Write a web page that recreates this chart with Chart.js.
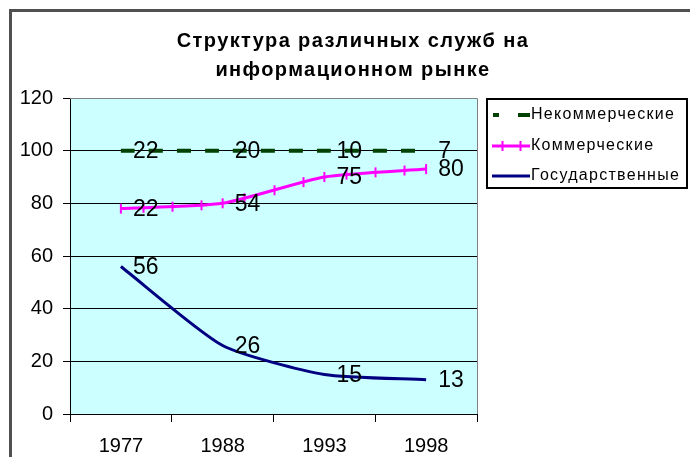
<!DOCTYPE html>
<html>
<head>
<meta charset="utf-8">
<script src="https://cdn.jsdelivr.net/npm/chart.js@4.4.1/dist/chart.umd.min.js"></script>
<style>
  html, body { margin: 0; padding: 0; background: #ffffff; }
  canvas { display: block; }
</style>
</head>
<body>
<canvas id="chart" width="690" height="457"></canvas>
<script>
// Years on the horizontal axis
const years = ['1977', '1988', '1993', '1998'];
// Shares of each service type, in percent (stacked to 100)
const stateShare = [56, 26, 15, 13];
const commercialShare = [22, 54, 75, 80];
const nonCommercialShare = [22, 20, 10, 7];
// Vertical axis range
const yMin = 0;
const yMax = 120;
const yStep = 20;

const titleLines = ['Структура различных служб на', 'информационном рынке'];
const FONT = '"Liberation Sans", Arial, Helvetica, sans-serif';

// Light cyan fill behind the plot area
const plotBackground = {
  id: 'plotBackground',
  beforeDraw(chart) {
    const { ctx, chartArea: a } = chart;
    ctx.save();
    ctx.fillStyle = '#CCFFFF';
    ctx.fillRect(a.left, a.top, a.right - a.left, a.bottom - a.top);
    ctx.restore();
  }
};

// Small vertical ticks along the commercial curve
const curveTicks = {
  id: 'curveTicks',
  afterDatasetsDraw(chart) {
    const { ctx } = chart;
    chart.data.datasets.forEach((ds, di) => {
      if (!ds.curveTicks) return;
      const pts = chart.getDatasetMeta(di).data;
      const bez = (a, b, c, d, t) => {
        const u = 1 - t;
        return u * u * u * a + 3 * u * u * t * b + 3 * u * t * t * c + t * t * t * d;
      };
      ctx.save();
      ctx.strokeStyle = ds.borderColor;
      ctx.lineWidth = 2;
      for (let i = 0; i < pts.length - 1; i++) {
        const p0 = pts[i], p1 = pts[i + 1];
        [0.25, 0.5, 0.75].forEach(t => {
          const x = bez(p0.x, p0.cp2x, p1.cp1x, p1.x, t);
          const y = bez(p0.y, p0.cp2y, p1.cp1y, p1.y, t);
          ctx.beginPath();
          ctx.moveTo(Math.round(x) + 0.5, y - 5);
          ctx.lineTo(Math.round(x) + 0.5, y + 5);
          ctx.stroke();
        });
      }
      ctx.restore();
    });
  }
};

// Value of each series written to the right of its point
const valueLabels = {
  id: 'valueLabels',
  afterDatasetsDraw(chart) {
    const { ctx } = chart;
    ctx.save();
    ctx.font = '23px ' + FONT;
    ctx.fillStyle = '#000000';
    ctx.textAlign = 'left';
    ctx.textBaseline = 'middle';
    chart.data.datasets.forEach((ds, di) => {
      chart.getDatasetMeta(di).data.forEach((el, i) => {
        ctx.fillText(String(ds.data[i]), el.x + 12, el.y + 1);
      });
    });
    ctx.restore();
  }
};

// Outer frame, plot border, title and boxed legend
const decorations = {
  id: 'decorations',
  afterDraw(chart) {
    const { ctx, chartArea: a } = chart;
    ctx.save();

    // plot right / top border
    ctx.strokeStyle = '#808080';
    ctx.lineWidth = 1;
    ctx.beginPath();
    ctx.moveTo(a.left, a.top + 0.5);
    ctx.lineTo(a.right + 0.5, a.top + 0.5);
    ctx.lineTo(a.right + 0.5, a.bottom);
    ctx.stroke();

    // outer frame (top and left)
    ctx.strokeStyle = '#505050';
    ctx.lineWidth = 3;
    ctx.beginPath();
    ctx.moveTo(10.5, 457);
    ctx.lineTo(10.5, 10.5);
    ctx.lineTo(690, 10.5);
    ctx.stroke();

    // title
    ctx.fillStyle = '#000000';
    ctx.font = 'bold 20px ' + FONT;
    ctx.textAlign = 'center';
    ctx.textBaseline = 'middle';
    ctx.letterSpacing = '1.4px';
    ctx.fillText(titleLines[0], 353, 41);
    ctx.fillText(titleLines[1], 353, 70);

    // legend box
    const lx = 487, ly = 99, lw = 200, lh = 89;
    ctx.letterSpacing = '0px';
    ctx.strokeStyle = '#000000';
    ctx.lineWidth = 2;
    ctx.strokeRect(lx, ly, lw, lh);

    const order = [2, 1, 0];
    const rowY = [115, 146, 176];
    ctx.font = '16px ' + FONT;
    ctx.textAlign = 'left';
    order.forEach((di, r) => {
      const ds = chart.data.datasets[di];
      const y = rowY[r];
      ctx.save();
      ctx.strokeStyle = ds.borderColor;
      ctx.lineWidth = ds.borderWidth;
      if (ds.borderDash && ds.borderDash.length) {
        ctx.beginPath();
        ctx.moveTo(493, y); ctx.lineTo(499, y);
        ctx.moveTo(518, y); ctx.lineTo(530, y);
        ctx.stroke();
      } else {
        ctx.beginPath();
        ctx.moveTo(492, y); ctx.lineTo(530, y);
        ctx.stroke();
      }
      if (ds.curveTicks) {
        ctx.lineWidth = 2;
        [502.5, 520.5].forEach(x => {
          ctx.beginPath();
          ctx.moveTo(x, y - 5); ctx.lineTo(x, y + 5);
          ctx.stroke();
        });
      }
      ctx.restore();
      ctx.fillStyle = '#000000';
      ctx.letterSpacing = '1.3px';
      ctx.fillText(ds.label, 531, y);
    });
    ctx.restore();
  }
};

new Chart(document.getElementById('chart'), {
  type: 'line',
  data: {
    labels: years,
    datasets: [
      {
        label: 'Государственные',
        data: stateShare,
        borderColor: '#000080',
        borderWidth: 3,
        pointRadius: 0,
        tension: 0.2,
        fill: false
      },
      {
        label: 'Коммерческие',
        data: commercialShare,
        borderColor: '#FF00FF',
        borderWidth: 3,
        pointStyle: 'line',
        rotation: 90,
        pointRadius: 5,
        pointBorderWidth: 2,
        pointBorderColor: '#FF00FF',
        curveTicks: true,
        tension: 0.2,
        fill: false
      },
      {
        label: 'Некоммерческие',
        data: nonCommercialShare,
        borderColor: '#004000',
        borderWidth: 4,
        borderDash: [14, 14],
        pointRadius: 0,
        tension: 0.2,
        fill: false
      }
    ]
  },
  options: {
    responsive: false,
    animation: false,
    devicePixelRatio: 1,
    layout: { padding: { top: 98, right: 213, bottom: 0, left: 0 } },
    plugins: {
      legend: { display: false },
      title: { display: false },
      tooltip: { enabled: false }
    },
    scales: {
      x: {
        type: 'category',
        offset: true,
        afterFit(scale) { scale.height = 43; },
        grid: {
          offset: true,
          drawOnChartArea: false,
          color: '#000000',
          tickLength: 8,
          lineWidth: 1
        },
        border: { color: '#000000', width: 1 },
        ticks: {
          color: '#000000',
          font: { family: FONT, size: 20 },
          padding: 12,
          maxRotation: 0
        }
      },
      y: {
        stacked: true,
        min: yMin,
        max: yMax,
        afterFit(scale) { scale.width = 70; },
        grid: {
          color: ctx => (ctx.tick && ctx.tick.value === yMax ? '#808080' : '#000000'),
          tickColor: '#000000',
          tickLength: 7,
          lineWidth: 1
        },
        border: { color: '#000000', width: 1 },
        ticks: {
          stepSize: yStep,
          color: '#000000',
          font: { family: FONT, size: 20 },
          padding: 10
        }
      }
    }
  },
  plugins: [plotBackground, curveTicks, valueLabels, decorations]
});
</script>
</body>
</html>
